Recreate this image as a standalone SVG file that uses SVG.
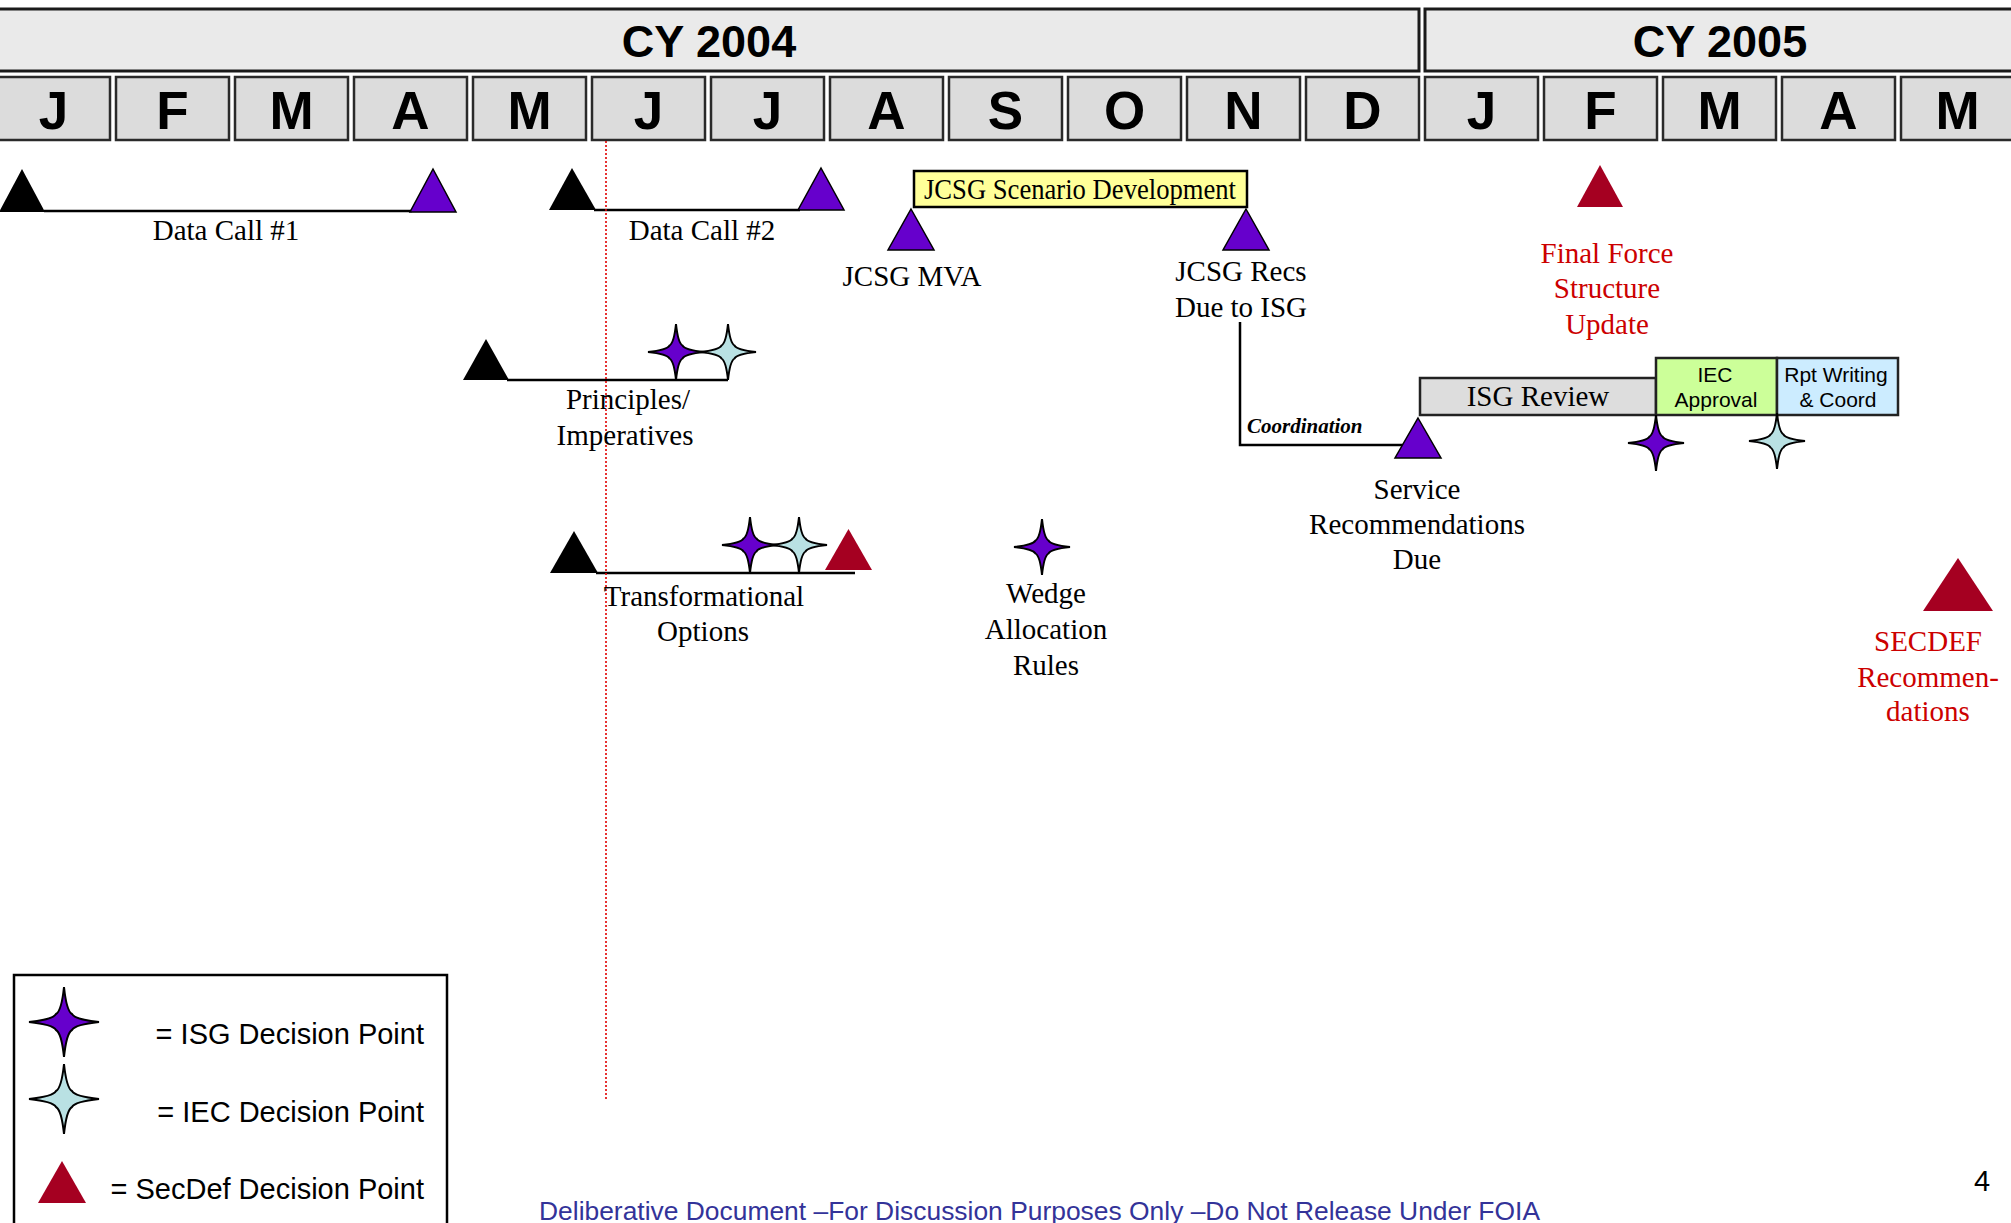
<svg xmlns="http://www.w3.org/2000/svg" width="2011" height="1223" viewBox="0 0 2011 1223">
<style>
.yr{fill:#EAEAEA;stroke:#1a1a1a;stroke-width:3}
.mo{fill:#DCDCDC;stroke:#2a2a2a;stroke-width:2.5}
.yt{font-family:"Liberation Sans",Arial,sans-serif;font-weight:bold;font-size:45px;fill:#000;text-anchor:middle}
.mt{font-family:"Liberation Sans",Arial,sans-serif;font-weight:bold;font-size:53px;fill:#000;text-anchor:middle}
.lbl{font-family:"Liberation Serif","Times New Roman",serif;font-size:29px;fill:#000;text-anchor:middle}
.red{fill:#CC0000}
.sans{font-family:"Liberation Sans",Arial,sans-serif;fill:#000}
.line{stroke:#000;stroke-width:2.5;fill:none}
.tb{fill:#000}
.tp{fill:#6600CC;stroke:#000;stroke-width:1.5}
.tr{fill:#A50021}
.sp{fill:#6600CC;stroke:#000;stroke-width:2}
.sc{fill:#B9E1E3;stroke:#000;stroke-width:2}
</style>
<defs>
<path id="star" d="M0,-28 Q2,-9 6.5,-6.5 Q9,-2 28,0 Q9,2 6.5,6.5 Q2,9 0,28 Q-2,9 -6.5,6.5 Q-9,2 -28,0 Q-9,-2 -6.5,-6.5 Q-2,-9 0,-28 Z"/>
<path id="starL" d="M0,-35 Q2.5,-11 8,-8 Q11,-2.5 35,0 Q11,2.5 8,8 Q2.5,11 0,35 Q-2.5,11 -8,8 Q-11,2.5 -35,0 Q-11,-2.5 -8,-8 Q-2.5,-11 0,-35 Z"/>
</defs>
<rect width="2011" height="1223" fill="#fff"/>

<g id="header">
<rect class="yr" x="-5" y="9" width="1424" height="62"/>
<rect class="yr" x="1425" y="9" width="600" height="62"/>
<text class="yt" x="709" y="57">CY 2004</text>
<text class="yt" x="1720" y="57">CY 2005</text>
<rect class="mo" x="-3" y="77" width="113" height="63"/>
<rect class="mo" x="116" y="77" width="113" height="63"/>
<rect class="mo" x="235" y="77" width="113" height="63"/>
<rect class="mo" x="354" y="77" width="113" height="63"/>
<rect class="mo" x="473" y="77" width="113" height="63"/>
<rect class="mo" x="592" y="77" width="113" height="63"/>
<rect class="mo" x="711" y="77" width="113" height="63"/>
<rect class="mo" x="830" y="77" width="113" height="63"/>
<rect class="mo" x="949" y="77" width="113" height="63"/>
<rect class="mo" x="1068" y="77" width="113" height="63"/>
<rect class="mo" x="1187" y="77" width="113" height="63"/>
<rect class="mo" x="1306" y="77" width="113" height="63"/>
<rect class="mo" x="1425" y="77" width="113" height="63"/>
<rect class="mo" x="1544" y="77" width="113" height="63"/>
<rect class="mo" x="1663" y="77" width="113" height="63"/>
<rect class="mo" x="1782" y="77" width="113" height="63"/>
<rect class="mo" x="1901" y="77" width="113" height="63"/>
<text class="mt" x="53.5" y="129">J</text>
<text class="mt" x="172.5" y="129">F</text>
<text class="mt" x="291.5" y="129">M</text>
<text class="mt" x="410.5" y="129">A</text>
<text class="mt" x="529.5" y="129">M</text>
<text class="mt" x="648.5" y="129">J</text>
<text class="mt" x="767.5" y="129">J</text>
<text class="mt" x="886.5" y="129">A</text>
<text class="mt" x="1005.5" y="129">S</text>
<text class="mt" x="1124.5" y="129">O</text>
<text class="mt" x="1243.5" y="129">N</text>
<text class="mt" x="1362.5" y="129">D</text>
<text class="mt" x="1481.5" y="129">J</text>
<text class="mt" x="1600.5" y="129">F</text>
<text class="mt" x="1719.5" y="129">M</text>
<text class="mt" x="1838.5" y="129">A</text>
<text class="mt" x="1957.5" y="129">M</text>
</g>

<g id="connectors">
<line class="line" x1="44" y1="211" x2="412" y2="211"/>
<line class="line" x1="594" y1="210" x2="800" y2="210"/>
<line class="line" x1="507" y1="380" x2="728" y2="380"/>
<line class="line" x1="596" y1="573" x2="855" y2="573"/>
<polyline class="line" stroke-width="2" points="1240,322 1240,445 1405,445"/>
<line x1="606" y1="141" x2="606" y2="1099" stroke="#E00000" stroke-width="1.6" stroke-dasharray="2,2"/>
</g>

<g id="data-call-1">
<polygon class="tb" points="22,169 45,212 -1,212"/>
<polygon class="tp" points="433,169 456,212 410,212"/>
<text class="lbl" x="226" y="240">Data Call #1</text>
</g>

<g id="data-call-2">
<polygon class="tb" points="572,168 596,210 549,210"/>
<polygon class="tp" points="821,168 844,210 798,210"/>
<text class="lbl" x="702" y="240">Data Call #2</text>
</g>

<g id="jcsg-scenario">
<rect x="914" y="171" width="333" height="36" fill="#FFFF99" stroke="#000" stroke-width="2.5"/>
<text class="lbl" x="1080" y="199" font-size="26.5" textLength="312" lengthAdjust="spacingAndGlyphs">JCSG Scenario Development</text>
</g>

<g id="jcsg-mva">
<polygon class="tp" points="911,209 934,250 888,250"/>
<text class="lbl" x="912" y="286">JCSG MVA</text>
</g>

<g id="jcsg-recs">
<polygon class="tp" points="1246,209 1269,250 1223,250"/>
<text class="lbl" x="1241" y="281">JCSG Recs</text>
<text class="lbl" x="1241" y="317">Due to ISG</text>
</g>

<g id="coordination">
<text x="1247" y="433" font-family="'Liberation Serif','Times New Roman',serif" font-size="21" font-weight="bold" font-style="italic" fill="#000">Coordination</text>
</g>

<g id="service-recs">
<polygon class="tp" points="1418,418 1441,458 1395,458"/>
<text class="lbl" x="1417" y="499" font-size="28">Service</text>
<text class="lbl" x="1417" y="534" font-size="28">Recommendations</text>
<text class="lbl" x="1417" y="569" font-size="28">Due</text>
</g>

<g id="isg-review">
<rect x="1420" y="378" width="236" height="37" fill="#DDDDDD" stroke="#222" stroke-width="2.5"/>
<text class="lbl" x="1538" y="406" font-size="27">ISG Review</text>
</g>

<g id="iec-approval">
<rect x="1656" y="358" width="121" height="57" fill="#CCFF99" stroke="#222" stroke-width="2.5"/>
<text class="sans" x="1715" y="382" font-size="21" text-anchor="middle">IEC</text>
<text class="sans" x="1716" y="407" font-size="21" text-anchor="middle">Approval</text>
</g>

<g id="rpt-writing">
<rect x="1777" y="358" width="121" height="57" fill="#CCECFF" stroke="#222" stroke-width="2.5"/>
<text class="sans" x="1836" y="382" font-size="21" text-anchor="middle">Rpt Writing</text>
<text class="sans" x="1838" y="407" font-size="21" text-anchor="middle">&amp; Coord</text>
</g>

<g id="isg-review-stars">
<use href="#star" class="sp" x="1656" y="443"/>
<use href="#star" class="sc" x="1777" y="441"/>
</g>

<g id="final-force">
<polygon class="tr" points="1600,165 1623,207 1577,207"/>
<text class="lbl red" x="1607" y="263" font-size="28">Final Force</text>
<text class="lbl red" x="1607" y="298" font-size="28">Structure</text>
<text class="lbl red" x="1607" y="334" font-size="28">Update</text>
</g>

<g id="secdef-recs">
<polygon class="tr" points="1958,558 1993,611 1923,611"/>
<text class="lbl red" x="1928" y="651">SECDEF</text>
<text class="lbl red" x="1928" y="687">Recommen-</text>
<text class="lbl red" x="1928" y="721">dations</text>
</g>

<g id="principles">
<polygon class="tb" points="486,339 509,380 463,380"/>
<use href="#star" class="sp" x="676" y="352"/>
<use href="#star" class="sc" x="728" y="352"/>
<text class="lbl" x="628" y="409">Principles/</text>
<text class="lbl" x="625" y="445">Imperatives</text>
</g>

<g id="transformational">
<polygon class="tb" points="574,531 598,573 550,573"/>
<use href="#star" class="sp" x="750" y="545"/>
<use href="#star" class="sc" x="799" y="545"/>
<polygon class="tr" points="848.5,529 872,570 825,570"/>
<text class="lbl" x="704" y="606">Transformational</text>
<text class="lbl" x="703" y="641">Options</text>
</g>

<g id="wedge">
<use href="#star" class="sp" x="1042" y="547"/>
<text class="lbl" x="1046" y="603">Wedge</text>
<text class="lbl" x="1046" y="639">Allocation</text>
<text class="lbl" x="1046" y="675">Rules</text>
</g>

<g id="legend">
<rect x="14" y="975" width="433" height="260" fill="#fff" stroke="#000" stroke-width="2.5"/>
<use href="#starL" class="sp" x="64" y="1022"/>
<use href="#starL" class="sc" x="64" y="1099"/>
<polygon class="tr" points="62,1161 86,1203 38,1203"/>
<text class="sans" x="424" y="1044" font-size="29" text-anchor="end">= ISG Decision Point</text>
<text class="sans" x="424" y="1122" font-size="29" text-anchor="end">= IEC Decision Point</text>
<text class="sans" x="424" y="1199" font-size="29" text-anchor="end">= SecDef Decision Point</text>
</g>

<g id="footer">
<text class="sans" x="539" y="1220" font-size="25.5" style="fill:#333399" textLength="1001" lengthAdjust="spacingAndGlyphs">Deliberative Document –For Discussion Purposes Only –Do Not Release Under FOIA</text>
<text class="sans" x="1982" y="1191" font-size="29" text-anchor="middle">4</text>
</g>
</svg>
